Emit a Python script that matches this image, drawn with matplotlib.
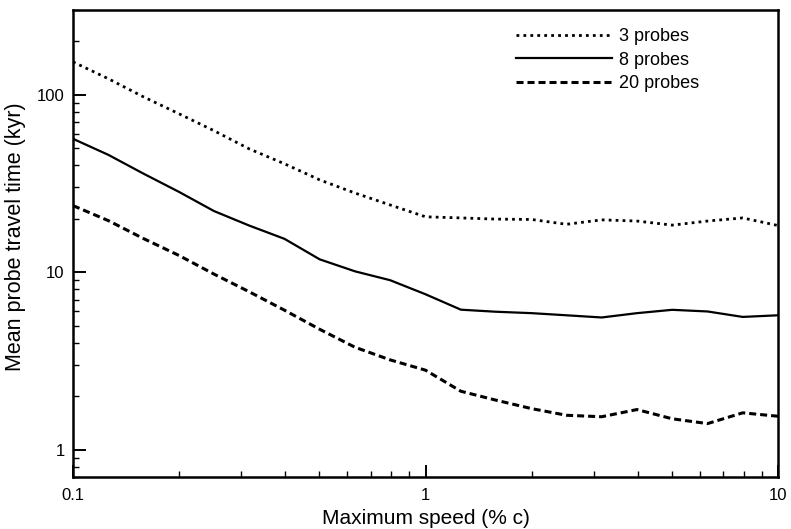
import matplotlib
matplotlib.use("Agg")
import matplotlib.pyplot as plt
from matplotlib.ticker import LogLocator, NullFormatter, FuncFormatter

# maximum speed, % of c (10 samples per decade)
speed = [0.1, 0.126, 0.158, 0.2, 0.251, 0.316, 0.398, 0.501, 0.631, 0.794, 1.0,
         1.26, 1.58, 2.0, 2.51, 3.16, 3.98, 5.01, 6.31, 7.94, 10.0]

# mean probe travel time, kyr
probes_3 = [153, 123, 97.5, 78, 62.7, 49.5, 40.8, 33.1, 27.9, 23.9, 20.5,
            20.2, 19.9, 19.8, 18.6, 19.7, 19.4, 18.4, 19.4, 20.2, 18.3]
probes_8 = [56.4, 45.8, 36.0, 28.3, 22.1, 18.3, 15.4, 11.8, 10.1, 9.0, 7.5,
            6.14, 5.98, 5.87, 5.71, 5.55, 5.87, 6.13, 6.0, 5.59, 5.71]
probes_20 = [23.7, 19.5, 15.5, 12.4, 9.75, 7.75, 6.1, 4.76, 3.77, 3.2, 2.8,
             2.13, 1.90, 1.70, 1.56, 1.53, 1.68, 1.49, 1.40, 1.61, 1.54]

plt.rcParams["font.family"] = ["Liberation Sans", "DejaVu Sans"]

fig = plt.figure(figsize=(7.91, 5.29), dpi=100)
ax = fig.add_axes([0.0923, 0.0983, 0.8913, 0.8827])

ax.plot(speed, probes_3, color="black", lw=2.0, linestyle=(0, (1, 1.5)), label="3 probes")
ax.plot(speed, probes_8, color="black", lw=1.6, linestyle="-", label="8 probes")
ax.plot(speed, probes_20, color="black", lw=2.2, linestyle=(0, (2.3, 1.3)), label="20 probes")

ax.set_xscale("log")
ax.set_yscale("log")
ax.set_xlim(0.1, 10)
ax.set_ylim(0.7, 300)

fmt = FuncFormatter(lambda v, pos: f"{v:g}")
ax.xaxis.set_major_formatter(fmt)
ax.yaxis.set_major_formatter(fmt)
for axis in (ax.xaxis, ax.yaxis):
    axis.set_minor_locator(LogLocator(base=10, subs=range(2, 10)))
    axis.set_minor_formatter(NullFormatter())

ax.tick_params(which="both", direction="in", top=False, right=False, labelsize=12)
ax.tick_params(which="major", length=9, width=1.4)
ax.tick_params(which="minor", length=4.5, width=1.0)
ax.tick_params(axis="x", which="major", pad=8)
ax.tick_params(axis="y", which="major", pad=6)
for sp in ax.spines.values():
    sp.set_linewidth(1.8)

ax.set_xlabel("Maximum speed (% c)", fontsize=15, labelpad=4)
ax.set_ylabel("Mean probe travel time (kyr)", fontsize=15.5)
ax.yaxis.set_label_coords(-0.066, 0.515)

ax.legend(loc="upper right", frameon=False, fontsize=13, handlelength=5.3,
          handletextpad=0.4, labelspacing=0.36, borderaxespad=0.6,
          bbox_to_anchor=(0.914, 1.0))

fig.savefig("out.png", dpi=100)
